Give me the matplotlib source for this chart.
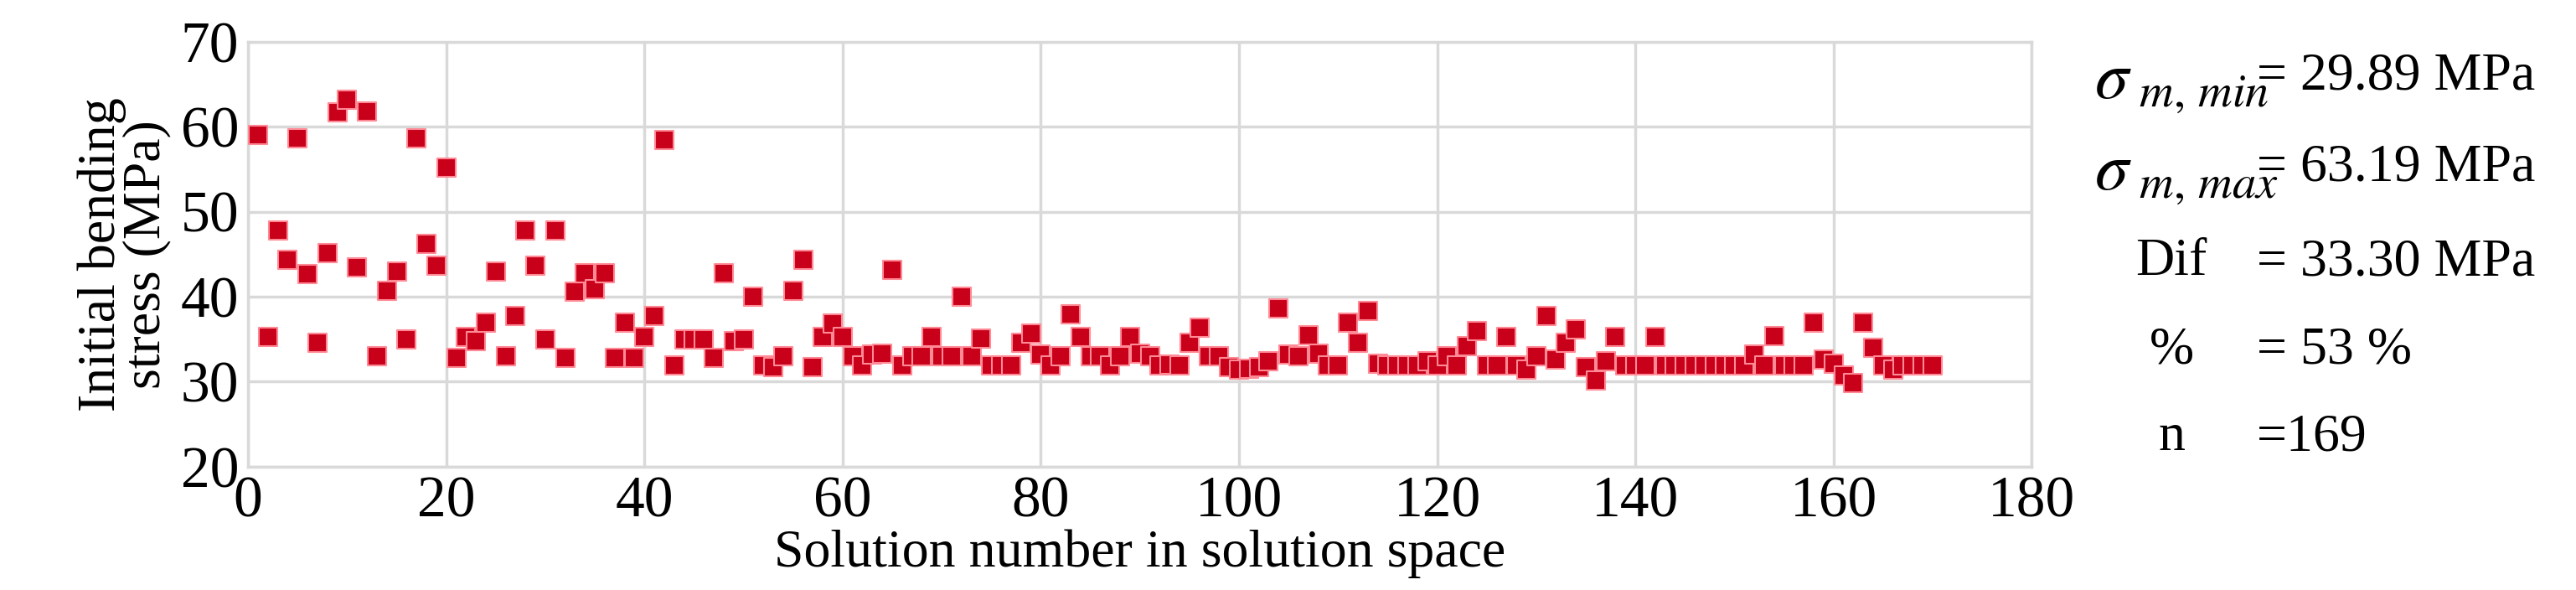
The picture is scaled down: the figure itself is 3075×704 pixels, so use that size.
import matplotlib
matplotlib.use("Agg")
import matplotlib.pyplot as plt

# solution number and initial bending stress (MPa)
solution_no = list(range(1, 171))
stress = [
    59.0, 35.3, 47.8, 44.4, 58.7, 42.7, 34.6, 45.1, 61.7, 63.19,
    43.5, 61.8, 33.0, 40.7, 43.0, 35.0, 58.7, 46.2, 43.7, 55.2,
    32.8, 35.3, 34.8, 37.0, 43.0, 33.0, 37.7, 47.8, 43.7, 35.0,
    47.8, 32.8, 40.6, 42.8, 40.9, 42.8, 32.8, 37.0, 32.8, 35.3,
    37.7, 58.5, 31.9, 35.0, 35.0, 35.0, 32.8, 42.8, 34.8, 35.0,
    40.0, 31.9, 31.7, 33.0, 40.7, 44.4, 31.7, 35.3, 36.9, 35.3,
    33.0, 31.9, 33.2, 33.3, 43.2, 31.9, 33.0, 33.0, 35.3, 33.0,
    33.0, 40.0, 33.0, 35.1, 31.9, 31.9, 31.9, 34.6, 35.7, 33.2,
    31.9, 33.0, 37.9, 35.3, 33.0, 33.0, 31.9, 33.0, 35.3, 33.3,
    33.0, 31.9, 32.0, 31.9, 34.6, 36.4, 33.0, 33.0, 31.7, 31.4,
    31.5, 31.7, 32.4, 38.6, 33.2, 33.0, 35.5, 33.3, 31.9, 31.9,
    37.0, 34.6, 38.3, 32.1, 31.9, 31.9, 31.9, 31.9, 32.4, 31.9,
    33.0, 31.9, 34.2, 36.0, 31.9, 31.9, 35.3, 31.9, 31.4, 33.0,
    37.7, 32.6, 34.6, 36.2, 31.7, 30.1, 32.4, 35.3, 31.9, 31.9,
    31.9, 35.3, 31.9, 31.9, 31.9, 31.9, 31.9, 31.9, 31.9, 31.9,
    31.9, 33.2, 31.9, 35.4, 31.9, 31.9, 31.9, 37.0, 32.6, 32.1,
    30.7, 29.89, 37.0, 34.0, 31.9, 31.4, 31.9, 31.9, 31.9, 31.9,
]

stat_labels = [r"$\sigma_{\ m,\,min}$", r"$\sigma_{\ m,\,max}$", "Dif", "%", "n"]
stat_values = ["= 29.89 MPa", "= 63.19 MPa", "= 33.30 MPa", "= 53 %", "=169"]

plt.rcParams["font.family"] = "Liberation Serif"
plt.rcParams["mathtext.fontset"] = "stix"

fig = plt.figure(figsize=(30.75, 7.04), dpi=100)
ax = fig.add_axes([0.0963, 0.209, 0.6924, 0.720])

ax.scatter(solution_no, stress, marker="s", s=270, color="#c8001a",
           edgecolors="#ff8a95", linewidths=1.5, zorder=3)

ax.set_xlim(0, 180)
ax.set_ylim(20, 70)
ax.set_xticks(range(0, 181, 20))
ax.set_yticks(range(20, 71, 10))
ax.grid(True, color="#d9d9d9", linewidth=2.5)
for s in ax.spines.values():
    s.set_color("#d9d9d9")
    s.set_linewidth(2.5)
ax.tick_params(length=0, labelsize=50, pad=8)

ax.set_xlabel("Solution number in solution space", fontsize=46, labelpad=0)
ax.set_ylabel("Initial bending\nstress (MPa)", fontsize=46, labelpad=8,
              linespacing=0.9)

# statistics block on the right
rows_y = [0.855, 0.700, 0.555, 0.405, 0.258]
for i, (lab, val) in enumerate(zip(stat_labels, stat_values)):
    if i < 2:
        fig.text(0.813, rows_y[i], lab, fontsize=58, ha="left", va="center")
    else:
        fig.text(0.843, rows_y[i], lab, fontsize=46, ha="center", va="center")
    fig.text(0.876, rows_y[i] + (0.015 if i < 2 else 0), val, fontsize=46,
             ha="left", va="center")

fig.savefig("out.png", dpi=100, facecolor="white")
